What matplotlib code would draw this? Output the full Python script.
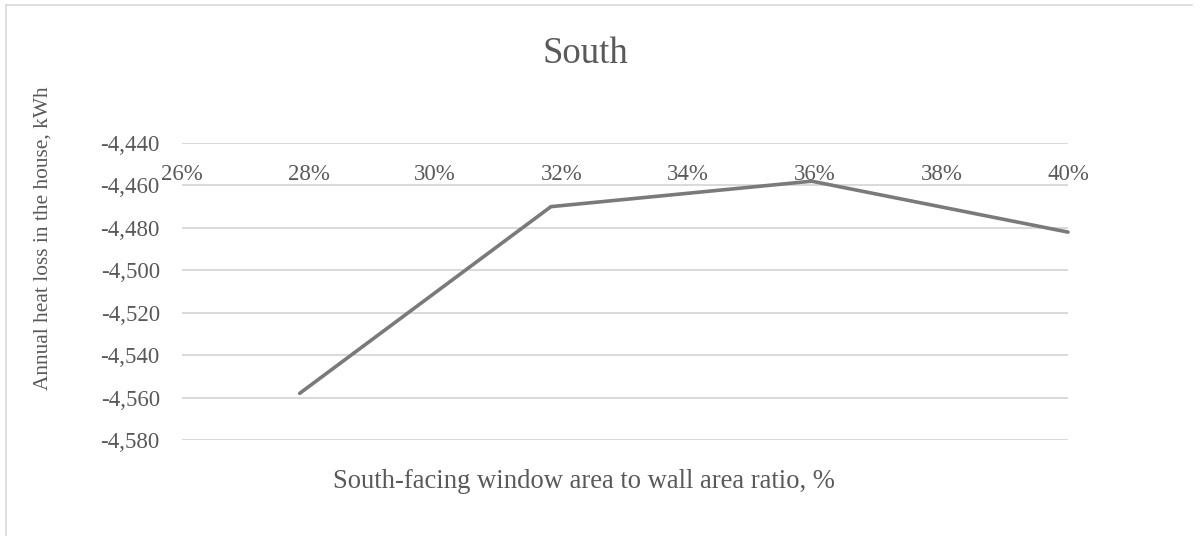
import matplotlib.pyplot as plt
from matplotlib.lines import Line2D
from matplotlib.ticker import FuncFormatter, MultipleLocator

# window-to-wall ratio (%) and annual heat loss (kWh)
ratio = [27.86, 31.83, 35.95, 40.0]
heat_loss = [-4558, -4470, -4458, -4482]

x_ticks = [26, 28, 30, 32, 34, 36, 38, 40]

TEXT = '#595959'
GRID = '#d9d9d9'
LINE = '#7a7a7a'

plt.rcParams['font.family'] = ['Liberation Serif', 'DejaVu Serif']

W, H = 1201, 536
fig = plt.figure(figsize=(W / 100, H / 100), dpi=100)
ax = fig.add_axes([182 / W, 96 / H, 886 / W, 297 / H])

ax.plot(ratio, heat_loss, color=LINE, linewidth=2.6, solid_capstyle='round',
        solid_joinstyle='miter', clip_on=False, zorder=3)

ax.set_xlim(26, 40)
ax.set_ylim(-4580, -4440)
ax.set_xticks(x_ticks)
ax.xaxis.set_major_formatter(FuncFormatter(lambda v, p: '%d%%' % round(v)))
ax.yaxis.set_major_locator(MultipleLocator(20))
ax.yaxis.set_major_formatter(FuncFormatter(lambda v, p: '{:,.0f}'.format(v)))

# horizontal axis crosses at the top, labels sit just under it
ax.xaxis.tick_top()
ax.tick_params(axis='x', length=0, pad=-30, labelsize=16.5, labelcolor=TEXT)
ax.tick_params(axis='y', length=0, pad=16, labelsize=16.5, labelcolor=TEXT)

ax.grid(axis='y', color=GRID, linewidth=1.4)
ax.set_axisbelow(True)
for s in ax.spines.values():
    s.set_visible(False)

fig.text(585 / W, 1 - 54 / H, 'South', ha='center', va='center',
         fontsize=26.5, color=TEXT)
fig.text(584 / W, 1 - 481 / H, 'South-facing window area to wall area ratio, %',
         ha='center', va='center', fontsize=19.2, color=TEXT)
fig.text(43 / W, 1 - 238 / H, 'Annual heat loss in the house, kWh',
         ha='center', va='center', rotation=90, fontsize=15.4, color=TEXT)

# chart frame (left and top edges)
fig.add_artist(Line2D([6 / W, 6 / W], [0, 1 - 5 / H], transform=fig.transFigure,
                      color=GRID, linewidth=1.2))
fig.add_artist(Line2D([6 / W, 1192 / W], [1 - 5 / H, 1 - 5 / H],
                      transform=fig.transFigure, color=GRID, linewidth=1.2))

fig.savefig('out.png', dpi=100, facecolor='white')
